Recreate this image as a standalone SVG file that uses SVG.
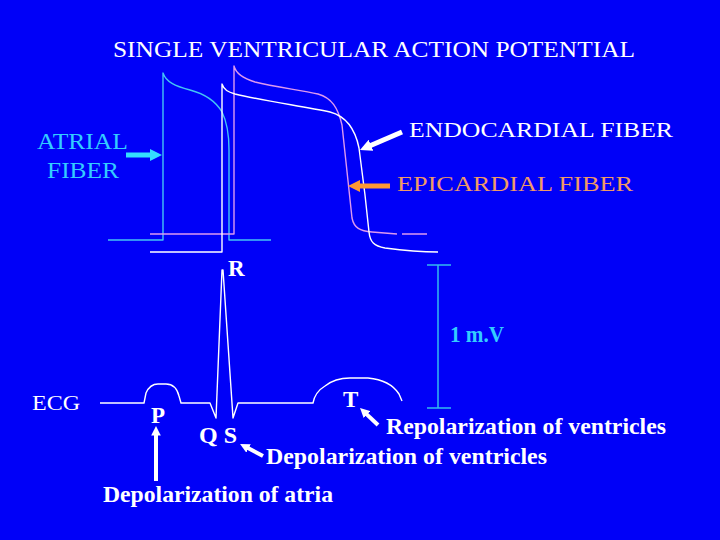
<svg xmlns="http://www.w3.org/2000/svg" width="720" height="540" viewBox="0 0 720 540">
<style>
.t{font-family:"Liberation Serif","Times New Roman",serif;fill:#fff}
.b{font-weight:bold}
.cy{fill:#33ccff}
.or{fill:#f09a66}
.crv{fill:none;stroke-width:1.4;stroke-linejoin:round}
.arr{fill:none;stroke-linecap:butt}
</style>
<defs>
<marker id="hw" viewBox="0 0 10 10" refX="3" refY="5" markerWidth="2.4" markerHeight="2.4" markerUnits="strokeWidth" orient="auto"><path d="M0,0 L10,5 L0,10 z" fill="#fff"/></marker>
<marker id="hc" viewBox="0 0 10 10" refX="3" refY="5" markerWidth="2.4" markerHeight="2.4" markerUnits="strokeWidth" orient="auto"><path d="M0,0 L10,5 L0,10 z" fill="#33ddff"/></marker>
<marker id="ho" viewBox="0 0 10 10" refX="3" refY="5" markerWidth="2.4" markerHeight="2.4" markerUnits="strokeWidth" orient="auto"><path d="M0,0 L10,5 L0,10 z" fill="#ff9933"/></marker>
</defs>
<rect width="720" height="540" fill="#0000f8"/>
<text class="t" x="113" y="57" font-size="24" textLength="522" lengthAdjust="spacingAndGlyphs">SINGLE VENTRICULAR ACTION POTENTIAL</text>
<g id="atrial-fiber">
<path class="crv" stroke="#44c4f4" d="M108,240 H163 V73 C166,82 175,86 190,90 C205,94 215,100 222,112 C227,122 229,135 229,150 V240 H271"/>
<text class="t cy" x="37" y="149" font-size="23" textLength="91" lengthAdjust="spacingAndGlyphs">ATRIAL</text>
<text class="t cy" x="47" y="178" font-size="23" textLength="72" lengthAdjust="spacingAndGlyphs">FIBER</text>
</g>
<g id="epicardial-fiber">
<path class="crv" stroke="#dd99ee" d="M150,234 H234 V66 C236,74 245,79 255,82 C275,87 300,90 318,94 C332,98 338,108 342,125 L352,218 C354,228 360,231 372,232 L397,234 M402,234 H427"/>
<text class="t or" x="397" y="191" font-size="22" textLength="236" lengthAdjust="spacingAndGlyphs">EPICARDIAL  FIBER</text>
</g>
<g id="endocardial-fiber">
<path class="crv" stroke="#ffffff" d="M150,252 H222 V84 C224,90 228,92 235,94 C260,100 300,106 330,112 C345,116 355,128 359,148 L365,195 L369,232 C370,242 374,246 385,248 C400,250 420,252 438,252"/>
<text class="t" x="409" y="137" font-size="22" textLength="264" lengthAdjust="spacingAndGlyphs">ENDOCARDIAL  FIBER</text>
</g>
<g id="scale-bar">
<path fill="none" stroke="#33bbee" stroke-width="1.5" d="M427,265 H451 M438,265 V408 M427,408 H451"/>
<text class="t b cy" x="450" y="342" font-size="23" textLength="54" lengthAdjust="spacingAndGlyphs">1 m.V</text>
</g>
<g id="ecg">
<text class="t" x="32" y="410" font-size="22" textLength="48" lengthAdjust="spacingAndGlyphs">ECG</text>
<path class="crv" stroke="#ffffff" d="M100,403 H144 L146,393 Q150,384 158,384 L166,384 Q176,384 179,396 L181,403 H210 L216,418 L222,270 L223,270 L233,418 L238,403 H313 Q315,392 325,386 Q335,378 350,378 L368,378 Q390,380 399,394 L402,401"/>
<text class="t b" x="228" y="276" font-size="23">R</text>
<text class="t b" x="151" y="423" font-size="23">P</text>
<text class="t b" x="199" y="443" font-size="23" textLength="38" lengthAdjust="spacingAndGlyphs">Q S</text>
<text class="t b" x="343" y="407" font-size="23">T</text>
</g>
<g id="labels">
<text class="t b" x="386" y="434" font-size="24" textLength="280" lengthAdjust="spacingAndGlyphs">Repolarization of ventricles</text>
<text class="t b" x="266" y="464" font-size="24" textLength="281" lengthAdjust="spacingAndGlyphs">Depolarization of ventricles</text>
<text class="t b" x="103" y="502" font-size="24" textLength="230" lengthAdjust="spacingAndGlyphs">Depolarization of atria</text>
</g>
<g id="connectors">
<line class="arr" x1="126" y1="155" x2="153.6" y2="155" stroke="#33ddff" stroke-width="5" marker-end="url(#hc)"/>
<line class="arr" x1="402" y1="132" x2="367.7" y2="146.7" stroke="#fff" stroke-width="5" marker-end="url(#hw)"/>
<line class="arr" x1="390" y1="186" x2="356.4" y2="186" stroke="#ff9933" stroke-width="5" marker-end="url(#ho)"/>
<line class="arr" x1="156" y1="481" x2="156" y2="432.7" stroke="#fff" stroke-width="4" marker-end="url(#hw)"/>
<line class="arr" x1="263" y1="456" x2="246" y2="447.1" stroke="#fff" stroke-width="4" marker-end="url(#hw)"/>
<line class="arr" x1="378" y1="425" x2="364.9" y2="412.6" stroke="#fff" stroke-width="4" marker-end="url(#hw)"/>
</g>
</svg>
